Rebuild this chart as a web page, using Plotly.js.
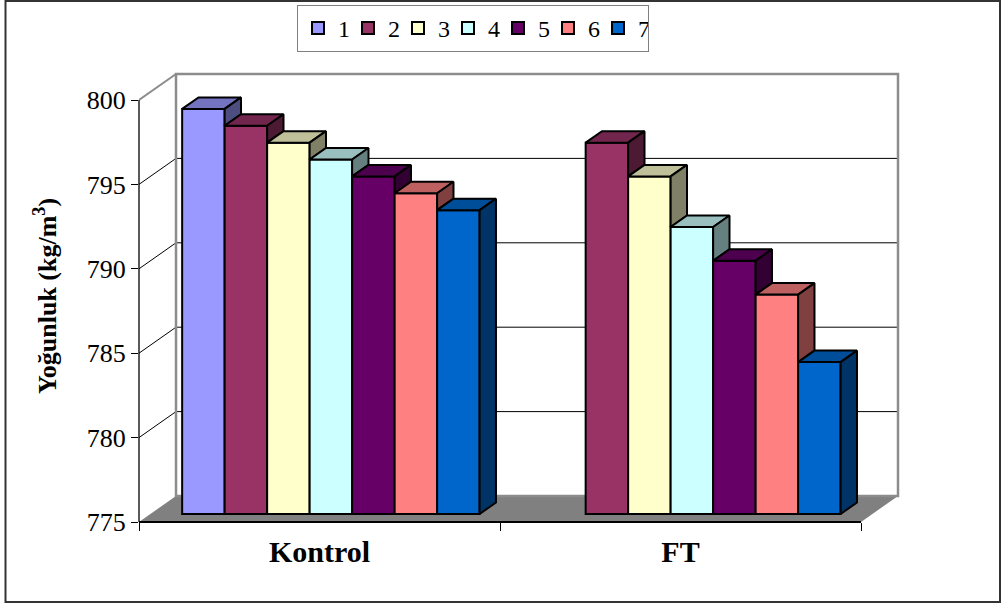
<!DOCTYPE html>
<html>
<head>
<meta charset="utf-8">
<script src="https://cdn.plot.ly/plotly-3.0.1.min.js"></script>
<style>
  html, body { margin: 0; padding: 0; background: #ffffff; }
  #chart { width: 1005px; height: 608px; }
</style>
</head>
<body>
<div id="chart"></div>
<script>
// Density (kg/m3) of the samples, seven series per group
const categories = ['Kontrol', 'FT'];
const seriesNames = ['1', '2', '3', '4', '5', '6', '7'];
const s1 = [799, null];
const s2 = [798, 797];
const s3 = [797, 795];
const s4 = [796, 792];
const s5 = [795, 790];
const s6 = [794, 788];
const s7 = [793, 784];
const seriesValues = [s1, s2, s3, s4, s5, s6, s7];
const yTicks = [775, 780, 785, 790, 795, 800];
const colors = ['#9999FF', '#993366', '#FFFFCC', '#CCFFFF', '#660066', '#FF8080', '#0066CC'];

// ---- pseudo-3D box geometry ----
const FONT = 'Liberation Serif, Times New Roman, serif';
const W = 1005, H = 608;
const M = { l: 139, r: 101, t: 70, b: 86, autoexpand: false };
const plotW = W - M.l - M.r, plotH = H - M.t - M.b;
const PX_X = 361;           // pixels per category on the front edge
const PX_Y = 16.88;         // pixels per value unit
const Y0 = yTicks[0], Y1 = yTicks[yTicks.length - 1];
const DX = 37 / PX_X;       // depth of the box, in axis units
const DY = 26 / PX_Y;
const FRONT = 0.3077, BACK = 0.75;   // bar front/back planes as part of the depth
const GROUP = 0.824;                 // share of a category used by the bars
const BW = GROUP / seriesNames.length;
const fx = FRONT * DX, fy = FRONT * DY;
const bdx = (BACK - FRONT) * DX, bdy = (BACK - FRONT) * DY;
const base = Y0 + fy;
const xLeft = -0.5, xRight = categories.length - 0.5;

function shade(hex, k) {
  const n = parseInt(hex.slice(1), 16);
  const r = Math.round(((n >> 16) & 255) * k);
  const g = Math.round(((n >> 8) & 255) * k);
  const b = Math.round((n & 255) * k);
  return 'rgb(' + r + ',' + g + ',' + b + ')';
}

const traces = [];
const catIdx = categories.map((_, k) => k);

// front faces of the bars
seriesValues.forEach((vals, i) => {
  traces.push({
    type: 'bar',
    name: seriesNames[i],
    x: catIdx,
    y: vals.map(v => v == null ? null : v - Y0),
    base: base,
    offset: -GROUP / 2 + i * BW + fx,
    width: BW,
    marker: { color: colors[i], line: { color: '#000000', width: 2 } },
    hoverinfo: 'skip'
  });
});

// top and right-side faces of the bars
function face(xs, ys, color) {
  traces.push({
    type: 'scatter', mode: 'lines', x: xs, y: ys, fill: 'toself',
    fillcolor: color, line: { color: '#000000', width: 2 },
    showlegend: false, hoverinfo: 'skip'
  });
}
seriesValues.forEach((vals, i) => {
  vals.forEach((v, c) => {
    if (v == null) return;
    const xl = c - GROUP / 2 + i * BW + fx;
    const xr = xl + BW;
    const yt = v + fy;
    face([xl, xr, xr + bdx, xl + bdx, xl], [yt, yt, yt + bdy, yt + bdy, yt], shade(colors[i], 0.75));
    const next = i + 1 < seriesValues.length ? seriesValues[i + 1][c] : null;
    let yb = next == null ? base : next + fy;
    if (yb >= yt) return;
    face([xr, xr + bdx, xr + bdx, xr, xr], [yt, yt + bdy, yb + bdy, yb, yt], shade(colors[i], 0.5));
  });
});

// walls, floor, grid
const shapes = [];
shapes.push({
  type: 'path', layer: 'below', xref: 'x', yref: 'y',
  path: 'M' + xLeft + ',' + Y0 + ' L' + xRight + ',' + Y0 + ' L' + (xRight + DX) + ',' + (Y0 + DY) +
        ' L' + (xLeft + DX) + ',' + (Y0 + DY) + ' Z',
  fillcolor: '#808080', line: { width: 0 }
});
yTicks.slice(1, -1).forEach(t => {
  shapes.push({ type: 'line', layer: 'below', xref: 'x', yref: 'y',
    x0: xLeft, y0: t, x1: xLeft + DX, y1: t + DY, line: { color: '#000000', width: 1 } });
  shapes.push({ type: 'line', layer: 'below', xref: 'x', yref: 'y',
    x0: xLeft + DX, y0: t + DY, x1: xRight + DX, y1: t + DY, line: { color: '#000000', width: 1 } });
});
shapes.push({ type: 'rect', layer: 'below', xref: 'x', yref: 'y',
  x0: xLeft + DX, y0: Y0 + DY, x1: xRight + DX, y1: Y1 + DY,
  line: { color: '#8c8c8c', width: 2.5 } });
shapes.push({ type: 'line', layer: 'below', xref: 'x', yref: 'y',
  x0: xLeft, y0: Y1, x1: xLeft + DX, y1: Y1 + DY, line: { color: '#8c8c8c', width: 2 } });
// axis lines
shapes.push({ type: 'line', xref: 'paper', yref: 'y', x0: 0, x1: 0, y0: Y0, y1: Y1,
  line: { color: '#000000', width: 1.3 } });
shapes.push({ type: 'line', xref: 'x', yref: 'paper', x0: xLeft, x1: xRight, y0: 0, y1: 0,
  line: { color: '#000000', width: 2 } });
// chart frame
shapes.push({ type: 'rect', xref: 'paper', yref: 'paper',
  x0: (5.5 - M.l) / plotW, x1: (1000 - M.l) / plotW,
  y0: (M.t + plotH - 602) / plotH, y1: (M.t + plotH - 1) / plotH,
  line: { color: '#333333', width: 2 } });

const layout = {
  width: W, height: H,
  margin: M,
  paper_bgcolor: '#ffffff', plot_bgcolor: 'rgba(0,0,0,0)',
  barmode: 'overlay',
  showlegend: true,
  font: { family: FONT, color: '#000000' },
  xaxis: {
    range: [xLeft, xLeft + plotW / PX_X],
    tickmode: 'array', tickvals: catIdx, ticktext: categories,
    ticks: '', showgrid: false, zeroline: false, showline: false,
    ticklabelstandoff: 9,
    tickfont: { family: FONT, size: 30, weight: 'bold', color: '#000000' },
    minor: { tickmode: 'linear', tick0: 0.5, dtick: 1, ticks: 'outside', ticklen: 8,
             tickcolor: '#000000', tickwidth: 1, showgrid: false },
    fixedrange: true
  },
  yaxis: {
    range: [Y0, Y0 + plotH / PX_Y],
    tickmode: 'array', tickvals: yTicks,
    ticks: 'outside', ticklen: 7, tickcolor: '#000000', tickwidth: 1,
    showgrid: false, zeroline: false, showline: false,
    tickfont: { family: FONT, size: 26, color: '#000000' },
    title: { text: 'Yoğunluk (kg/m<sup>3</sup>)', font: { family: FONT, size: 26, weight: 'bold', color: '#000000' }, standoff: 22 },
    fixedrange: true
  },
  legend: {
    orientation: 'h',
    x: (297 - M.l) / plotW, xanchor: 'left',
    y: (M.t + plotH - 5) / plotH, yanchor: 'top',
    bgcolor: '#ffffff', bordercolor: '#808080', borderwidth: 1,
    font: { family: FONT, size: 24, color: '#000000' },
    entrywidth: 5, entrywidthmode: 'pixels',
    traceorder: 'normal'
  },
  shapes: shapes
};

Plotly.newPlot('chart', traces, layout, { displayModeBar: false, staticPlot: true });
</script>
</body>
</html>
